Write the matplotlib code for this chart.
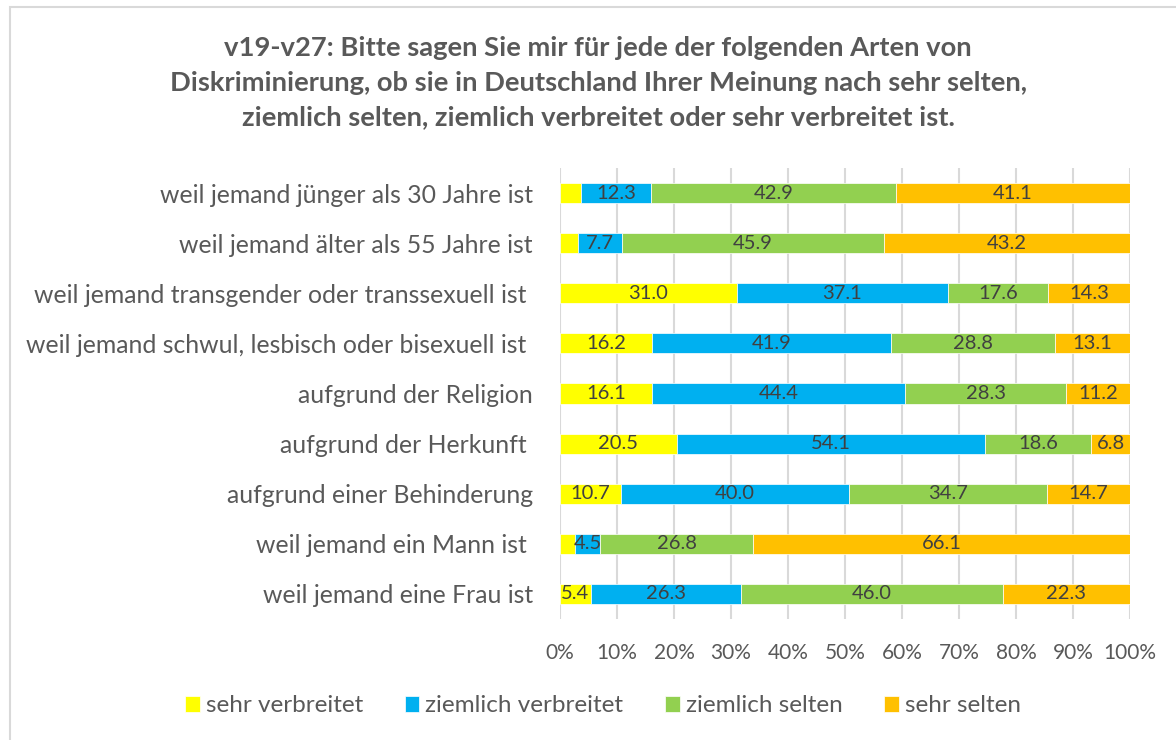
import numpy as np
import matplotlib
matplotlib.use("Agg")
from matplotlib import pyplot as plt
from matplotlib.patches import Rectangle

plt.rcParams['font.family'] = ['Lato', 'DejaVu Sans']

# Kategorien von oben nach unten
categories = [
    'weil jemand jünger als 30 Jahre ist',
    'weil jemand älter als 55 Jahre ist',
    'weil jemand transgender oder transsexuell ist ',
    'weil jemand schwul, lesbisch oder bisexuell ist ',
    'aufgrund der Religion',
    'aufgrund der Herkunft ',
    'aufgrund einer Behinderung',
    'weil jemand ein Mann ist ',
    'weil jemand eine Frau ist',
]
sehr_verbreitet = [3.7, 3.2, 31.0, 16.2, 16.1, 20.5, 10.7, 2.6, 5.4]
ziemlich_verbreitet = [12.3, 7.7, 37.1, 41.9, 44.4, 54.1, 40.0, 4.5, 26.3]
ziemlich_selten = [42.9, 45.9, 17.6, 28.8, 28.3, 18.6, 34.7, 26.8, 46.0]
sehr_selten = [41.1, 43.2, 14.3, 13.1, 11.2, 6.8, 14.7, 66.1, 22.3]

series_names = ['sehr verbreitet', 'ziemlich verbreitet', 'ziemlich selten', 'sehr selten']
colors = ['#FFFF00', '#00B0F0', '#92D050', '#FFC000']

title = ('v19-v27: Bitte sagen Sie mir für jede der folgenden Arten von\n'
         'Diskriminierung, ob sie in Deutschland Ihrer Meinung nach sehr selten,\n'
         'ziemlich selten, ziemlich verbreitet oder sehr verbreitet ist.')

textcol = '#595959'

fig = plt.figure(figsize=(11.76, 7.4), dpi=100)
fig.patches.append(Rectangle((10 / 1176, -0.05), 1.1, 1.05 - 7 / 740, transform=fig.transFigure,
                             fill=False, edgecolor='#d9d9d9', linewidth=1.5))

ax = fig.add_axes([560 / 1176, 1 - 619 / 740, 570 / 1176, 451 / 740])

y = np.arange(len(categories))
left = np.zeros(len(categories))
data = [sehr_verbreitet, ziemlich_verbreitet, ziemlich_selten, sehr_selten]
for name, vals, c in zip(series_names, data, colors):
    vals = np.array(vals)
    ax.barh(y, vals, left=left, height=0.4, color=c, edgecolor='white', linewidth=0.5,
            label=name, zorder=3)
    # kleine Segmente ohne Beschriftung, wie im Original
    for yi, l, v in zip(y, left, vals):
        if v >= 4:
            ax.text(l + v / 2, yi, f'{v:.1f}', ha='center', va='center',
                    fontsize=14.5, color='#404040', zorder=4)
    left += vals

ax.set_xlim(0, 100)
ax.set_ylim(len(categories) - 0.5, -0.5)
ax.set_xticks(np.arange(0, 101, 10))
ax.set_xticklabels([f'{t}%' for t in range(0, 101, 10)], fontsize=15, color=textcol)
ax.set_yticks(y)
ax.set_yticklabels(categories, fontsize=17.8, color=textcol)
ax.tick_params(axis='both', length=0)
ax.tick_params(axis='y', pad=19.5)
ax.tick_params(axis='x', pad=17)
ax.grid(axis='x', color='#d9d9d9', linewidth=1.5, zorder=0)
for s in ax.spines.values():
    s.set_visible(False)

fig.text(598 / 1176, 1 - 83 / 740, title, ha='center', va='center', fontsize=19.7,
         fontweight='bold', color=textcol, linespacing=1.53)

fig.legend(loc='center', bbox_to_anchor=(603 / 1176, 1 - 706 / 740), ncol=4, frameon=False,
           fontsize=17.5, handlelength=0.6, handleheight=0.6, handletextpad=0.25,
           columnspacing=1.72, labelcolor=textcol)

fig.savefig('out.png', dpi=100)
